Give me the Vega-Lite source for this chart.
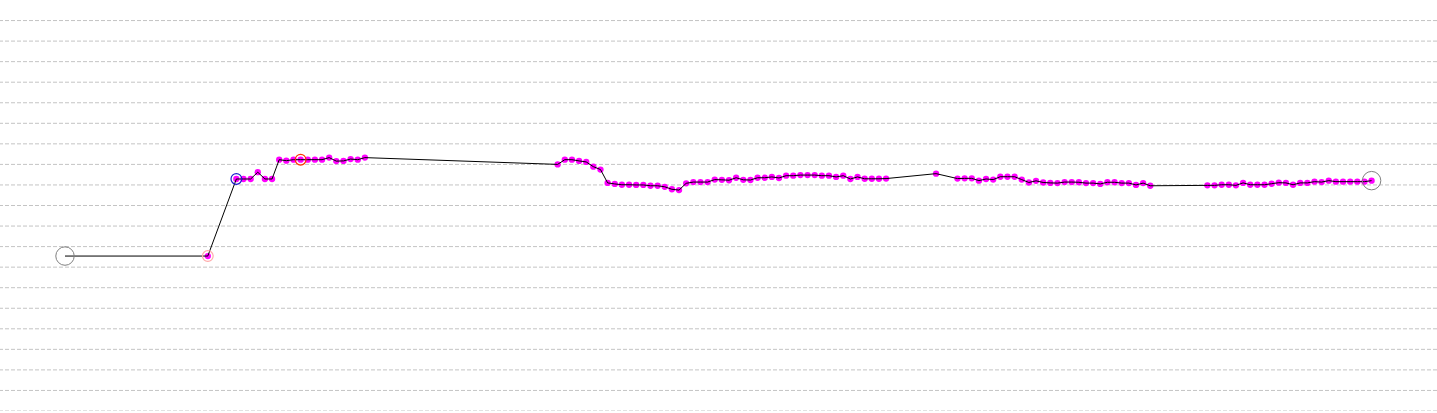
{
  "$schema": "https://vega.github.io/schema/vega-lite/v6.json",
  "width": 1437,
  "height": 411,
  "padding": 0,
  "autosize": {"type": "none"},
  "background": "white",
  "config": {"view": {"stroke": null}},
  "datasets": {
    "grid": [
      {"g": 0}, {"g": 1}, {"g": 2}, {"g": 3}, {"g": 4}, {"g": 5}, {"g": 6}, {"g": 7}, {"g": 8}, {"g": 9},
      {"g": 10}, {"g": 11}, {"g": 12}, {"g": 13}, {"g": 14}, {"g": 15}, {"g": 16}, {"g": 17}, {"g": 18}, {"g": 19}
    ],
    "series": [
      {"i": 0, "v": 7.54}, {"i": 20, "v": 7.54}, {"i": 24, "v": 11.29}, {"i": 25, "v": 11.29}, {"i": 26, "v": 11.29},
      {"i": 27, "v": 11.62}, {"i": 28, "v": 11.29}, {"i": 29, "v": 11.29}, {"i": 30, "v": 12.23}, {"i": 31, "v": 12.18},
      {"i": 32, "v": 12.23}, {"i": 33, "v": 12.23}, {"i": 34, "v": 12.23}, {"i": 35, "v": 12.23}, {"i": 36, "v": 12.23},
      {"i": 37, "v": 12.33}, {"i": 38, "v": 12.16}, {"i": 39, "v": 12.17}, {"i": 40, "v": 12.26}, {"i": 41, "v": 12.23},
      {"i": 42, "v": 12.33},
      {"i": 69, "v": 12.0}, {"i": 70, "v": 12.23}, {"i": 71, "v": 12.23}, {"i": 72, "v": 12.17}, {"i": 73, "v": 12.12},
      {"i": 74, "v": 11.89}, {"i": 75, "v": 11.75}, {"i": 76, "v": 11.1}, {"i": 77, "v": 11.05}, {"i": 78, "v": 11.01},
      {"i": 79, "v": 11.01}, {"i": 80, "v": 11.0}, {"i": 81, "v": 11.0}, {"i": 82, "v": 10.96}, {"i": 83, "v": 10.96},
      {"i": 84, "v": 10.91}, {"i": 85, "v": 10.79}, {"i": 86, "v": 10.75}, {"i": 87, "v": 11.08}, {"i": 88, "v": 11.14},
      {"i": 89, "v": 11.14}, {"i": 90, "v": 11.14}, {"i": 91, "v": 11.26}, {"i": 92, "v": 11.25}, {"i": 93, "v": 11.23},
      {"i": 94, "v": 11.35}, {"i": 95, "v": 11.25}, {"i": 96, "v": 11.24}, {"i": 97, "v": 11.35}, {"i": 98, "v": 11.35},
      {"i": 99, "v": 11.39}, {"i": 100, "v": 11.34}, {"i": 101, "v": 11.45}, {"i": 102, "v": 11.45}, {"i": 103, "v": 11.48},
      {"i": 104, "v": 11.48}, {"i": 105, "v": 11.48}, {"i": 106, "v": 11.45}, {"i": 107, "v": 11.45}, {"i": 108, "v": 11.39},
      {"i": 109, "v": 11.45}, {"i": 110, "v": 11.29}, {"i": 111, "v": 11.39}, {"i": 112, "v": 11.3}, {"i": 113, "v": 11.3},
      {"i": 114, "v": 11.3}, {"i": 115, "v": 11.31},
      {"i": 122, "v": 11.55},
      {"i": 125, "v": 11.31}, {"i": 126, "v": 11.32}, {"i": 127, "v": 11.32}, {"i": 128, "v": 11.21}, {"i": 129, "v": 11.29},
      {"i": 130, "v": 11.26}, {"i": 131, "v": 11.4}, {"i": 132, "v": 11.4}, {"i": 133, "v": 11.4}, {"i": 134, "v": 11.26},
      {"i": 135, "v": 11.12}, {"i": 136, "v": 11.2}, {"i": 137, "v": 11.12}, {"i": 138, "v": 11.1}, {"i": 139, "v": 11.09},
      {"i": 140, "v": 11.14}, {"i": 141, "v": 11.14}, {"i": 142, "v": 11.13}, {"i": 143, "v": 11.09}, {"i": 144, "v": 11.09},
      {"i": 145, "v": 11.05}, {"i": 146, "v": 11.13}, {"i": 147, "v": 11.13}, {"i": 148, "v": 11.09}, {"i": 149, "v": 11.09},
      {"i": 150, "v": 11.0}, {"i": 151, "v": 11.09}, {"i": 152, "v": 10.96},
      {"i": 160, "v": 10.98}, {"i": 161, "v": 10.98}, {"i": 162, "v": 11.01}, {"i": 163, "v": 11.01}, {"i": 164, "v": 10.98},
      {"i": 165, "v": 11.1}, {"i": 166, "v": 11.01}, {"i": 167, "v": 11.01}, {"i": 168, "v": 11.01}, {"i": 169, "v": 11.06},
      {"i": 170, "v": 11.11}, {"i": 171, "v": 11.1}, {"i": 172, "v": 11.01}, {"i": 173, "v": 11.1}, {"i": 174, "v": 11.1},
      {"i": 175, "v": 11.16}, {"i": 176, "v": 11.14}, {"i": 177, "v": 11.21}, {"i": 178, "v": 11.16}, {"i": 179, "v": 11.16},
      {"i": 180, "v": 11.16}, {"i": 181, "v": 11.16}, {"i": 182, "v": 11.16}, {"i": 183, "v": 11.21}
    ],
    "ends": [
      {"i": 0, "v": 7.54, "kind": "start"},
      {"i": 183, "v": 11.21, "kind": "end"}
    ],
    "markers": [
      {"i": 20, "v": 7.54, "kind": "low"},
      {"i": 24, "v": 11.29, "kind": "jump"},
      {"i": 33, "v": 12.23, "kind": "high"}
    ]
  },
  "layer": [
    {
      "data": {"name": "grid"},
      "mark": {"type": "rule", "color": "#c4c4c4", "strokeDash": [4, 2], "strokeWidth": 1},
      "encoding": {
        "y": {"field": "g", "type": "quantitative", "scale": {"domain": [0, 20], "nice": false, "zero": false}, "axis": null}
      }
    },
    {
      "data": {"name": "series"},
      "transform": [{"filter": "datum.i > 0"}],
      "mark": {"type": "point", "filled": true, "color": "#ff00ff", "opacity": 1, "size": 40},
      "encoding": {
        "x": {"field": "i", "type": "quantitative", "scale": {"domain": [-9.104, 192.16], "nice": false, "zero": false}, "axis": null},
        "y": {"field": "v", "type": "quantitative"}
      }
    },
    {
      "data": {"name": "series"},
      "mark": {"type": "line", "color": "#000000", "strokeWidth": 1},
      "encoding": {
        "x": {"field": "i", "type": "quantitative"},
        "y": {"field": "v", "type": "quantitative"}
      }
    },
    {
      "data": {"name": "ends"},
      "mark": {"type": "point", "filled": false, "opacity": 1, "strokeWidth": 1, "color": "#808080", "size": 340},
      "encoding": {
        "x": {"field": "i", "type": "quantitative"},
        "y": {"field": "v", "type": "quantitative"}
      }
    },
    {
      "data": {"name": "markers"},
      "mark": {"type": "point", "filled": false, "opacity": 1, "strokeWidth": 1.2, "size": 115},
      "encoding": {
        "x": {"field": "i", "type": "quantitative"},
        "y": {"field": "v", "type": "quantitative"},
        "color": {
          "field": "kind", "type": "nominal", "legend": null,
          "scale": {"domain": ["low", "jump", "high"], "range": ["#ffaaaa", "#1a1acc", "#ff3300"]}
        }
      }
    }
  ]
}
